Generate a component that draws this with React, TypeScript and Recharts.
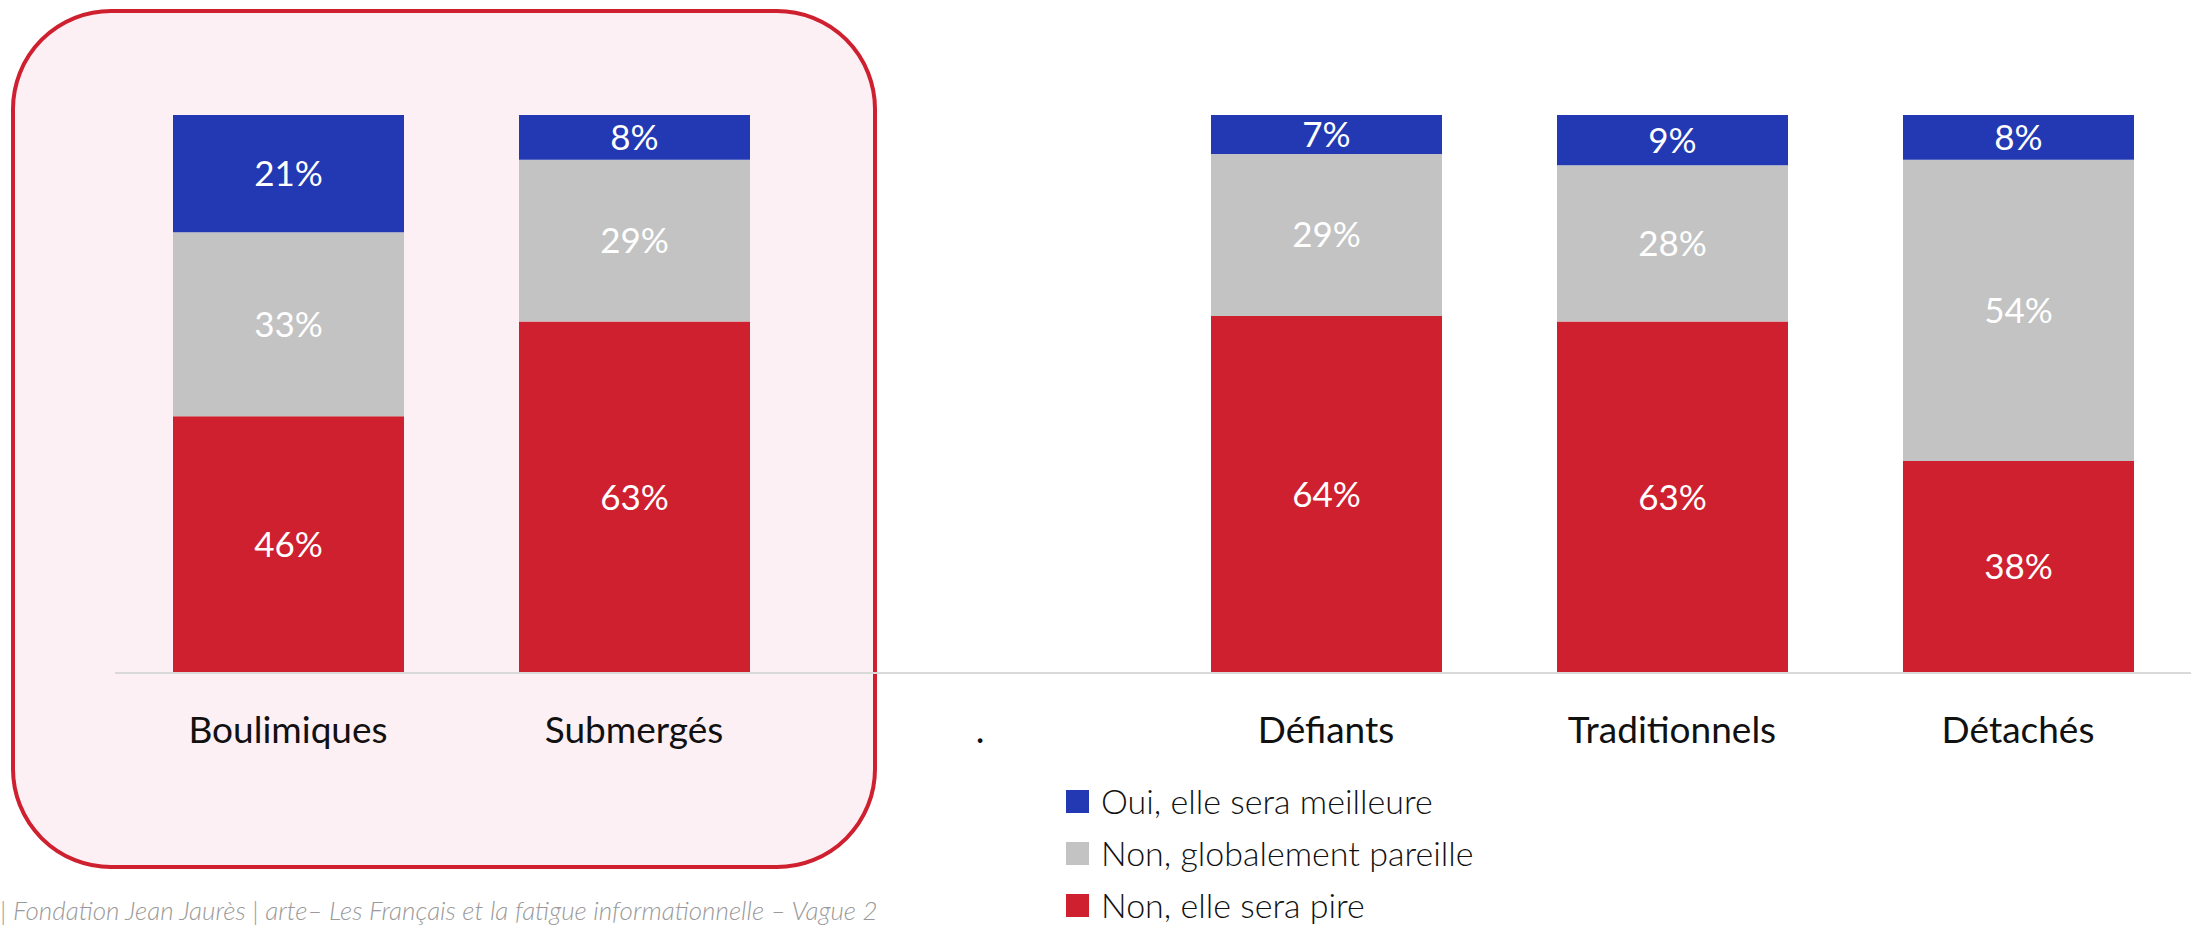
import { BarChart, Bar, XAxis, YAxis, LabelList } from "recharts";

const categories = ["Boulimiques", "Submergés", ".", "Défiants", "Traditionnels", "Détachés"];
const pire = [46, 63, null, 64, 63, 38];
const pareille = [33, 29, null, 29, 28, 54];
const meilleure = [21, 8, null, 7, 9, 8];

const seriesNames = ["Oui, elle sera meilleure", "Non, globalement pareille", "Non, elle sera pire"];
const seriesColors = ["#2339b4", "#c3c3c3", "#cf2030"];

const sourceText =
  "| Fondation Jean Jaurès | arte– Les Français et la fatigue informationnelle – Vague 2";

const data = categories.map((name, i) => ({
  name,
  pire: pire[i],
  pareille: pareille[i],
  meilleure: meilleure[i],
}));

const FONT = "Lato, 'Noto Sans', sans-serif";

const fmt = (v: any) => (v == null ? "" : `${v}%`);

export default function App() {
  return (
    <div
      style={{
        position: "absolute",
        left: 0,
        top: 0,
        width: 2195,
        height: 925,
        background: "#ffffff",
        fontFamily: FONT,
        overflow: "hidden",
      }}
    >
      {/* encadré rose derrière les deux premiers groupes */}
      <div
        style={{
          position: "absolute",
          left: 11,
          top: 9,
          width: 858,
          height: 852,
          background: "#fcf0f4",
          border: "4px solid #cf2030",
          borderRadius: 100,
        }}
      />

      <div style={{ position: "absolute", left: 0, top: 0 }}>
        <BarChart
          width={2195}
          height={925}
          data={data}
          margin={{ top: 115, right: 4, bottom: 0, left: 115 }}
        >
          <XAxis
            dataKey="name"
            height={252}
            axisLine={{ stroke: "#d9d9d9", strokeWidth: 2 }}
            tickLine={false}
            tickSize={0}
            tickMargin={44}
            interval={0}
            tick={{ fill: "#111111", fontSize: 37, fontFamily: FONT }}
          />
          <YAxis hide domain={[0, 100]} />
          <Bar dataKey="pire" stackId="a" fill={seriesColors[2]} barSize={231} isAnimationActive={false}>
            <LabelList dataKey="pire" position="center" formatter={fmt} fill="#ffffff" fontSize={35} fontFamily={FONT} />
          </Bar>
          <Bar dataKey="pareille" stackId="a" fill={seriesColors[1]} barSize={231} isAnimationActive={false}>
            <LabelList dataKey="pareille" position="center" formatter={fmt} fill="#ffffff" fontSize={35} fontFamily={FONT} />
          </Bar>
          <Bar dataKey="meilleure" stackId="a" fill={seriesColors[0]} barSize={231} isAnimationActive={false}>
            <LabelList dataKey="meilleure" position="center" formatter={fmt} fill="#ffffff" fontSize={35} fontFamily={FONT} />
          </Bar>
        </BarChart>
      </div>

      {/* légende */}
      <div style={{ position: "absolute", left: 1066, top: 775 }}>
        {seriesNames.map((n, i) => (
          <div key={n} style={{ display: "flex", alignItems: "center", height: 52 }}>
            <span
              style={{
                display: "inline-block",
                width: 23,
                height: 23,
                background: seriesColors[i],
                marginRight: 12,
              }}
            />
            <span style={{ fontSize: 34, lineHeight: "40px", color: "#111111", fontWeight: 300 }}>{n}</span>
          </div>
        ))}
      </div>

      <div
        style={{
          position: "absolute",
          left: 0,
          top: 895,
          fontSize: 26,
          lineHeight: "30px",
          fontStyle: "italic",
          color: "#9a9a9a",
          fontWeight: 300,
          whiteSpace: "nowrap",
        }}
      >
        {sourceText}
      </div>
    </div>
  );
}
